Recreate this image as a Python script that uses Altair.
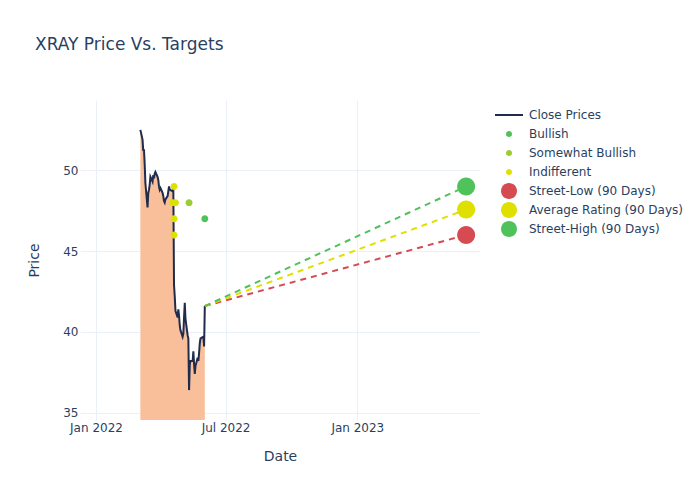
import altair as alt
import pandas as pd

# ---------------- data ----------------
close_dates = [
    "2022-03-04", "2022-03-07", "2022-03-08", "2022-03-09", "2022-03-10", "2022-03-11",
    "2022-03-14", "2022-03-15", "2022-03-16", "2022-03-17", "2022-03-18",
    "2022-03-21", "2022-03-22", "2022-03-23", "2022-03-24", "2022-03-25",
    "2022-03-28", "2022-03-29", "2022-03-30", "2022-03-31", "2022-04-01",
    "2022-04-04", "2022-04-05", "2022-04-06", "2022-04-07", "2022-04-08",
    "2022-04-11", "2022-04-12", "2022-04-13", "2022-04-14",
    "2022-04-18", "2022-04-19", "2022-04-20", "2022-04-21", "2022-04-22",
    "2022-04-25", "2022-04-26", "2022-04-27", "2022-04-28", "2022-04-29",
    "2022-05-02", "2022-05-03", "2022-05-04", "2022-05-05", "2022-05-06",
    "2022-05-09", "2022-05-10", "2022-05-11", "2022-05-12", "2022-05-13",
    "2022-05-16", "2022-05-17", "2022-05-18", "2022-05-19", "2022-05-20",
    "2022-05-23", "2022-05-24", "2022-05-25", "2022-05-26", "2022-05-27",
    "2022-05-31", "2022-06-01", "2022-06-02",
]
close_prices = [
    52.5, 51.9, 51.2, 51.3, 50.4, 49.2,
    47.7, 48.6, 48.8, 49.1, 49.6,
    49.3, 49.7, 49.5, 49.8, 49.9,
    49.6, 49.4, 49.0, 48.8, 48.9,
    48.6, 48.4, 48.1, 48.0, 48.2,
    48.4, 48.7, 49.0, 48.8,
    48.7, 48.9, 42.9, 42.2, 41.3,
    40.9, 41.4, 41.0, 40.4, 40.1,
    39.7, 39.9, 40.9, 41.8, 40.8,
    39.8, 39.6, 36.4, 38.0, 38.2,
    38.2, 38.8, 38.0, 37.4, 37.9,
    38.4, 38.2, 38.7, 39.3, 39.6,
    39.7, 39.1, 41.6,
]

rating_dates = ["2022-04-20", "2022-04-18", "2022-04-22", "2022-04-20", "2022-04-20",
                "2022-05-11", "2022-06-02"]
rating_values = [49.0, 48.0, 48.0, 47.0, 46.0, 48.0, 47.0]
rating_labels = ["Indifferent", "Indifferent", "Indifferent", "Indifferent", "Indifferent",
                 "Somewhat Bullish", "Bullish"]

target_labels = ["Street-Low (90 Days)", "Average Rating (90 Days)", "Street-High (90 Days)"]
target_values = [46.0, 47.57, 49.0]
target_colors = ["#d64b52", "#dfe000", "#4fc25b"]
target_date = "2023-06-02"

series_names = ["Close Prices", "Bullish", "Somewhat Bullish", "Indifferent"] + target_labels
series_colors = ["#1f2c4c", "#4fc25b", "#9acd32", "#dfe000"] + target_colors

x_tick_dates = ["2022-01-01", "2022-07-01", "2023-01-01"]
x_range = ["2021-12-09T15:36:00", "2023-06-21T09:36:00"]
y_ticks = [35, 40, 45, 50]
y_range = [34.55, 54.35]

# ---------------- styling ----------------
FONT = "DejaVu Sans"
TXT = "#2a3f5f"
GRID = "#ebf0f8"
FILL = "#f9bf9b"
LINE = series_colors[0]


def ms(s):
    return int(pd.Timestamp(s, tz="UTC").value // 10**6)


def circle_path(r):
    return f"M{-r},0A{r},{r},0,1,1,{r},0A{r},{r},0,1,1,{-r},0Z"


# legend glyphs (paths in the unit square, scaled by the symbol size)
LINE_GLYPH = "M-1.556,-0.111H1.556V0.111H-1.556Z"
SMALL_GLYPH = circle_path(0.333)
BIG_GLYPH = circle_path(0.889)
series_shapes = [LINE_GLYPH, SMALL_GLYPH, SMALL_GLYPH, SMALL_GLYPH, BIG_GLYPH, BIG_GLYPH, BIG_GLYPH]

close_df = pd.DataFrame({"date": close_dates, "price": close_prices, "series": "Close Prices"})
rating_df = pd.DataFrame({"date": rating_dates, "price": rating_values, "series": rating_labels})
target_df = pd.DataFrame({"date": [target_date] * len(target_labels), "price": target_values,
                          "series": target_labels})
last_date, last_price = close_dates[-1], close_prices[-1]
dash_df = pd.DataFrame({
    "date": [d for _ in target_labels for d in (last_date, target_date)],
    "price": [p for v in target_values for p in (last_price, v)],
    "series": [s for s in target_labels for _ in range(2)],
})

x_enc = alt.X(
    "date:T", title="Date",
    scale=alt.Scale(type="utc", domain=[ms(d) for d in x_range], nice=False),
    axis=alt.Axis(values=[ms(d) for d in x_tick_dates], format="%b %Y", labelPadding=2,
                  titlePadding=16),
)
y_enc = alt.Y(
    "price:Q", title="Price",
    scale=alt.Scale(domain=y_range, zero=False, nice=False),
    axis=alt.Axis(values=y_ticks, labelPadding=2, titlePadding=21),
)

legend = alt.Legend(
    title=None, orient="none", legendX=420, legendY=6, padding=0, rowPadding=1,
    gridAlign="all",
    labelFont=FONT, labelFontSize=12, labelColor=TXT, labelOffset=11, labelLimit=400,
    symbolSize=324, symbolStrokeWidth=0, symbolOpacity=1,
)
color_leg = alt.Color("series:N", scale=alt.Scale(domain=series_names, range=series_colors),
                      legend=legend)
shape_leg = alt.Shape("series:N", scale=alt.Scale(domain=series_names, range=series_shapes),
                      legend=legend)
dash_stroke = alt.Stroke("series:N", scale=alt.Scale(domain=target_labels, range=target_colors),
                         legend=None)

area = alt.Chart(close_df).mark_area(color=FILL, opacity=1, clip=True).encode(x=x_enc, y=y_enc)
close_line = alt.Chart(close_df).mark_line(strokeWidth=2, color=LINE, clip=True).encode(
    x=x_enc, y=y_enc)
dashes = alt.Chart(dash_df).mark_line(strokeWidth=2, strokeDash=[6, 5]).encode(
    x=x_enc, y=y_enc, stroke=dash_stroke, detail="series:N")
rating_pts = alt.Chart(rating_df).mark_point(filled=True, size=441, opacity=1).encode(
    x=x_enc, y=y_enc, color=color_leg, shape=shape_leg)
target_pts = alt.Chart(target_df).mark_point(filled=True, size=410, opacity=1).encode(
    x=x_enc, y=y_enc, color=color_leg, shape=shape_leg)

chart = alt.layer(area, close_line, dashes, rating_pts, target_pts).properties(
    width=400, height=320,
    autosize=alt.AutoSizeParams(type="none"),
    padding={"left": 72, "top": 92, "right": 212, "bottom": 72},
    title=alt.TitleParams("XRAY Price Vs. Targets", anchor="start", frame="group", dx=-45,
                          offset=46, font=FONT, fontSize=17, fontWeight="normal", color=TXT),
).configure(background="white").configure_view(stroke=None).configure_axis(
    labelFont=FONT, labelFontSize=12, labelColor=TXT,
    titleFont=FONT, titleFontSize=14, titleColor=TXT, titleFontWeight="normal",
    grid=True, gridColor=GRID, gridWidth=1, domain=False, ticks=False,
)

chart.save("out.html", embed_options={"renderer": "svg", "actions": False})
